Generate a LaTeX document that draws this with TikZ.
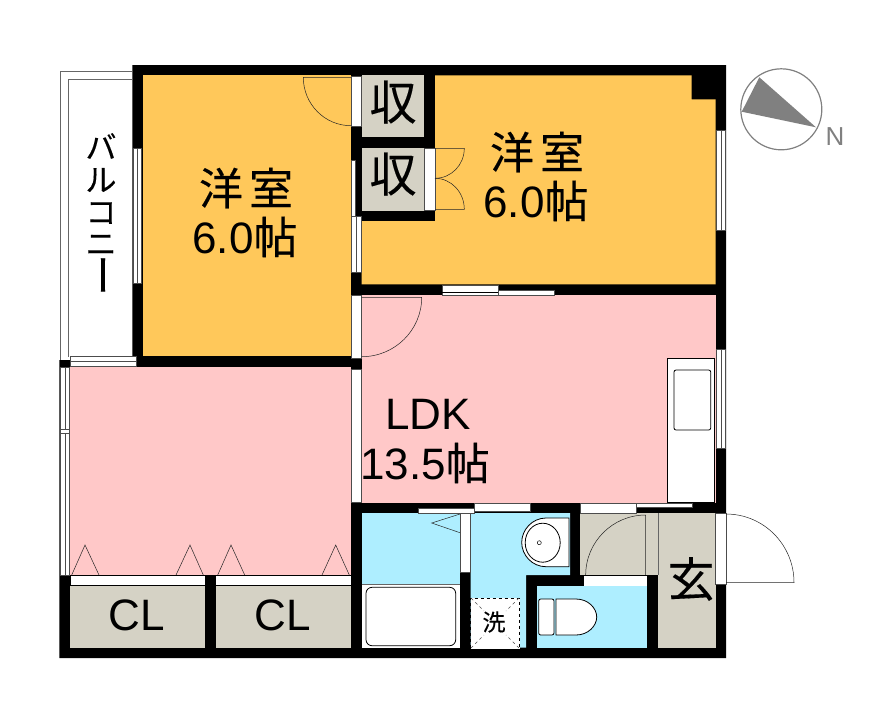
\documentclass[tikz,border=0pt]{standalone}
\usepackage{fontspec}
\setmainfont{Liberation Sans}
\newfontfamily\jpfont[FakeBold=0.25]{Noto Sans CJK JP}
\definecolor{yoshitsu}{HTML}{FFC85A}
\definecolor{ldkpink}{HTML}{FFC8C8}
\definecolor{mizu}{HTML}{AEEEFF}
\definecolor{shuno}{HTML}{D5D2C5}
\tikzset{
	wall/.style={fill=black},
	thinline/.style={draw=black!85, line width=0.5pt},
	fitting/.style={draw=black, line width=0.8pt, fill=white},
	win/.style={draw=black!70, line width=0.5pt, fill=white},
	roomtext/.style={inner sep=0pt, font=\fontsize{44}{52}\selectfont},
	storetext/.style={inner sep=0pt, font=\jpfont\fontsize{47}{52}\selectfont},
	balconytext/.style={inner sep=0pt, font=\jpfont\fontsize{31}{36}\selectfont},
	smalltext/.style={inner sep=0pt, font=\jpfont\fontsize{23}{25}\selectfont},
}
\def\winv(#1,#2,#3,#4){\draw[win] (#1, #2) rectangle (#3, #4);\draw[black!70, line width=0.5pt] ({(#1+#3)/2}, #2) -- ({(#1+#3)/2}, #4);}
\def\winh(#1,#2,#3,#4){\draw[win] (#1, #2) rectangle (#3, #4);}

\begin{document}
\begin{tikzpicture}[x=1pt, y=-1pt]
		%%%%% START %%%%%
		\useasboundingbox (0, 0) rectangle (882, 724);
		
		% balcony
		\draw[thinline, black!60] (60, 360) -- (60, 71.7) -- (132.3, 71.7);
		\draw[thinline, black!60] (68.3, 356.7) -- (68.3, 79.3) -- (132.3, 79.3);
		
		% walls under everything
		\fill[wall] (132.3, 65) -- (726, 65) -- (726, 658) -- (59.3, 658) -- (59.3, 360) -- (132.3, 360) -- cycle;
		
		% rooms
		\fill[yoshitsu] (142.7, 75.3) rectangle (351, 356);
		\fill[yoshitsu] (435, 75.3) -- (691.7, 75.3) -- (691.7, 99.3) -- (715.7, 99.3) -- (715.7, 284.3) -- (361.7, 284.3) -- (361.7, 221) -- (435, 221) -- cycle;
		\fill[ldkpink] (361.7, 295) rectangle (715.7, 502.7);
		\fill[ldkpink] (70, 367) rectangle (351, 575);
		\fill[shuno] (361.7, 75.3) rectangle (424, 137);
		\fill[shuno] (361.7, 148) rectangle (424, 210.7);
		\fill[shuno] (70, 585.7) rectangle (205, 647.7);
		\fill[shuno] (215.7, 585.7) rectangle (351, 647.7);
		\fill[shuno] (580, 513) rectangle (658, 575);
		\fill[shuno] (658, 513) rectangle (715.7, 647.7);
		\fill[mizu] (361.7, 513) rectangle (460, 584);
		\fill[white] (361.7, 584) rectangle (460, 647.7);
		\fill[mizu] (470.7, 513) -- (570, 513) -- (570, 575) -- (526, 575) -- (526, 647.7) -- (470.7, 647.7) -- cycle;
		\fill[mizu] (537, 585.7) rectangle (647, 647.7);
		\draw[thinline, black!60] (361.7, 584) -- (460, 584);
		\draw[thinline, black!60] (658, 513) -- (658, 575);
		
		% doors in the walls
		\draw[win] (351, 76) rectangle (361, 126.7);
		\draw[win] (424, 148) rectangle (435, 210.7);
		\draw[win] (351, 295.7) rectangle (361, 358);
		\draw[win] (351, 369) rectangle (361, 502);
		\draw[win] (460, 513) rectangle (470.7, 572);
		\fill[white] (584, 575.7) rectangle (647, 585.7);
		\draw[win] (715.7, 513) rectangle (726, 584);
		\draw[fitting, line width=0.5pt] (70, 575) rectangle (205, 585.7);
		\draw[fitting, line width=0.5pt] (215.7, 575) rectangle (351, 585.7);
		
		% windows
		\winv(133, 148, 141.7, 283)
		\winv(716.5, 130, 725.5, 230)
		\winv(716.5, 349, 725.5, 448)
		\winv(60, 367, 69.5, 575)
		\draw[win] (60, 429) rectangle (69.5, 433);
		\draw[win] (351.7, 160) rectangle (355.7, 216);
		\winv(351.7, 216, 361, 272)
		\draw[win] (70, 356.7) rectangle (136.7, 366);
		\draw[black!70, line width=0.5pt] (70, 361.7) -- (136.7, 361.7);
		\winh(442, 285, 498, 295)
		\draw[black, line width=0.5pt] (442, 292) -- (498, 292);
		\winh(498, 290, 554, 295)
		\winh(418, 508, 474.3, 513)
		\winh(474.3, 503, 530, 511)
		\winh(580, 503, 636, 513)
		\winh(636, 503, 692.7, 507)
		
		% door swings
		\draw[thinline] (351, 77.3) -- (303.3, 77.3) .. controls (303.3, 104) and (324.6, 125.7) .. (351, 125.7);
		\draw[thinline] (361.7, 297.3) -- (421.7, 297.3) .. controls (421.7, 330.1) and (394.8, 356.7) .. (361.7, 356.7);
		\draw[thinline] (435, 148.3) -- (464.3, 148.3) .. controls (464.3, 164.9) and (451.2, 178.3) .. (435, 178.3);
		\draw[thinline] (435, 209.3) -- (464.3, 209.3) .. controls (464.3, 192.2) and (451.2, 178.3) .. (435, 178.3);
		\draw[thinline] (645.7, 575) -- (645.7, 515) .. controls (612.6, 515) and (585.7, 541.9) .. (585.7, 575);
		\draw[thinline] (726, 514) .. controls (763.6, 514) and (794, 544.7) .. (794, 582.5) -- (726, 582.5);
		\draw[thinline] (460, 514) -- (431.7, 523) -- (460, 532.7);
		
		% closet folding doors
		\draw[thinline] (71.7, 575) -- (85, 545) -- (99, 575);
		\draw[thinline] (176, 575) -- (190, 545) -- (203.3, 575);
		\draw[thinline] (217.7, 575) -- (231, 545) -- (244.7, 575);
		\draw[thinline] (322, 575) -- (335.7, 545) -- (349.3, 575);
		
		% kitchen
		\draw[fitting] (667, 358) rectangle (714, 502);
		\draw[fitting, rounded corners=2pt] (674, 370) rectangle (710.7, 430);
		
		% bath, basin, washer, toilet
		\draw[fitting, rounded corners=6pt] (366, 587.3) rectangle (455.7, 645.7);
		\draw[fitting] (569, 518) -- (546, 518) .. controls (532, 518) and (521.7, 530) .. (521.7, 542.4) .. controls (521.7, 555) and (532, 566.7) .. (546, 566.7) -- (569, 566.7) -- cycle;
		\draw[fitting] (542.7, 542.7) ellipse [x radius=17.5pt, y radius=19.5pt];
		\draw[fitting, line width=0.5pt] (539.3, 542.7) circle [radius=2pt];
		\draw[white, fill=white] (470.7, 598) rectangle (519, 648);
		\draw[black, line width=0.5pt, dashed] (470.7, 648) -- (470.7, 598) -- (519, 598) -- (519, 648);
		\draw[black!70, line width=0.4pt, dashed] (471, 598) -- (484, 611);
		\draw[black!70, line width=0.4pt, dashed] (519, 598) -- (506, 611);
		\draw[black!70, line width=0.4pt, dashed] (471, 648) -- (484, 635);
		\draw[black!70, line width=0.4pt, dashed] (519, 648) -- (506, 635);
		\draw[fitting, rounded corners=2pt] (538.7, 599) rectangle (554, 635);
		\draw[fitting] (556, 599) -- (576, 599) .. controls (588, 599) and (596.7, 608) .. (596.7, 617) .. controls (596.7, 626) and (588, 635) .. (576, 635) -- (556, 635) -- cycle;
		
		% compass
		\draw[draw=black!50, line width=1.2pt, fill=white] (781.3, 109.3) circle [radius=40.5pt];
		\fill[black!50] (759.3, 77.3) -- (816, 127.3) -- (741.7, 111.7) -- cycle;
		\node[inner sep=0pt, text=black!50, font=\fontsize{26}{28}\selectfont] (north) at (835, 137) {N};
		
		% labels
		\node[roomtext] (westa) at (246, 188) {\jpfont 洋\hspace{6pt}室};
		\node[roomtext] (westasize) at (245, 237) {6.0{\jpfont 帖}};
		\node[roomtext] (westb) at (537, 152) {\jpfont 洋\hspace{6pt}室};
		\node[roomtext] (westbsize) at (536, 201) {6.0{\jpfont 帖}};
		\node[storetext] (storea) at (393, 102) {収};
		\node[storetext] (storeb) at (393, 174) {収};
		\node[roomtext] (ldk) at (428, 414) {LDK};
		\node[roomtext] (ldksize) at (425, 463) {13.5{\jpfont 帖}};
		\node[roomtext] (cla) at (137, 615) {CL};
		\node[roomtext] (clb) at (283, 615) {CL};
		\node[storetext] (entry) at (691, 579) {玄};
		\node[smalltext] (washer) at (494, 622) {洗};
		\node[balconytext] (balconya) at (101, 146) {バ};
		\node[balconytext] (balconyb) at (101, 180) {ル};
		\node[balconytext] (balconyc) at (101, 213) {コ};
		\node[balconytext] (balconyd) at (101, 245) {ニ};
		\node[balconytext, rotate=-90, font=\jpfont\fontsize{42}{44}\selectfont] (balconye) at (96, 275) {ー};
		
		%%%%% END %%%%%
	\end{tikzpicture}
\end{document}
